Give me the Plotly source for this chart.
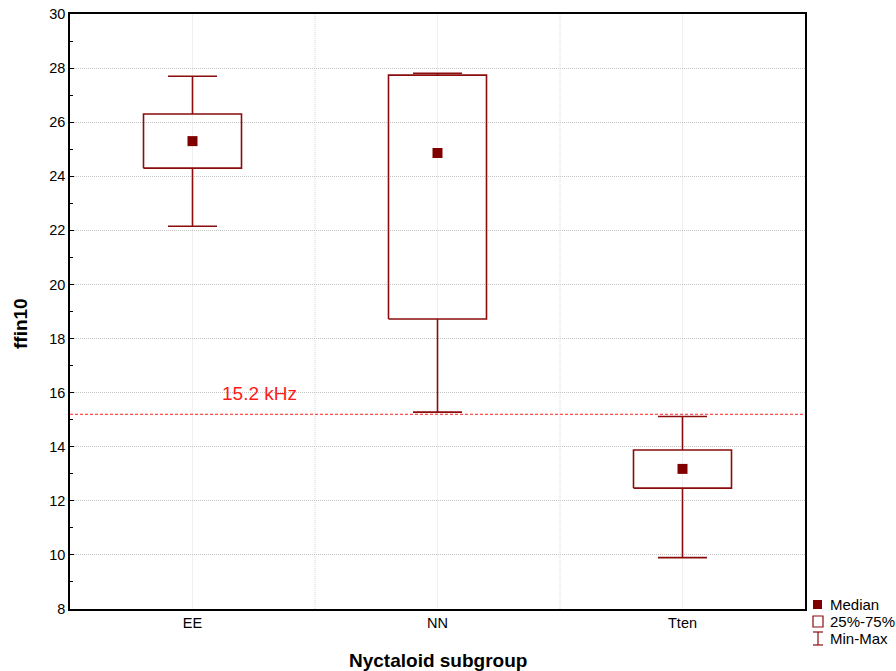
import plotly.graph_objects as go

categories = ["EE", "NN", "Tten"]
mins = [22.15, 15.28, 9.90]
q1s = [24.30, 18.72, 12.47]
medians = [25.30, 24.86, 13.18]
q3s = [26.30, 27.74, 13.88]
maxs = [27.70, 27.81, 15.12]
ref_value = 15.2
ref_label = "15.2 kHz"

COL = "#8a0c0c"
FONT = "Liberation Sans, Arial, sans-serif"
BOX_HW = 0.2
CAP_HW = 0.1

fig = go.Figure()

for i, cat in enumerate(categories):
    fig.add_trace(go.Scatter(
        x=[i - BOX_HW, i + BOX_HW, i + BOX_HW, i - BOX_HW, i - BOX_HW],
        y=[q1s[i], q1s[i], q3s[i], q3s[i], q1s[i]],
        mode="lines", line=dict(color=COL, width=1.6),
        showlegend=False, hoverinfo="skip"))
    fig.add_trace(go.Scatter(
        x=[i, i, None, i, i, None, i - CAP_HW, i + CAP_HW, None, i - CAP_HW, i + CAP_HW],
        y=[q3s[i], maxs[i], None, q1s[i], mins[i], None, maxs[i], maxs[i], None, mins[i], mins[i]],
        mode="lines", line=dict(color=COL, width=1.6),
        showlegend=False, hoverinfo="skip"))
    fig.add_trace(go.Scatter(
        x=[i], y=[medians[i]], mode="markers",
        marker=dict(symbol="square", size=10, color="#800000"),
        showlegend=False))

shapes = []
for b in [0.5, 1.5]:
    shapes.append(dict(type="line", xref="x", yref="paper", x0=b, x1=b, y0=0, y1=1,
                       line=dict(color="#d4d4d4", width=1, dash="1px,1px"), layer="below"))
shapes.append(dict(type="line", xref="paper", yref="y", x0=0, x1=1, y0=ref_value, y1=ref_value,
                   line=dict(color="#ff2020", width=1, dash="3px,2px")))

L, T, W, H = 70, 14, 735, 595
def px(xp):
    return (xp - L) / W
def py(yp):
    return (T + H - yp) / H

shapes.append(dict(type="rect", xref="paper", yref="paper",
                   x0=px(813), x1=px(822), y0=py(609), y1=py(600),
                   fillcolor="#800000", line=dict(width=0)))
shapes.append(dict(type="rect", xref="paper", yref="paper",
                   x0=px(813), x1=px(823), y0=py(627), y1=py(616),
                   fillcolor="white", line=dict(color=COL, width=1.2)))
shapes.append(dict(type="line", xref="paper", yref="paper",
                   x0=px(818), x1=px(818), y0=py(645), y1=py(632), line=dict(color=COL, width=1.2)))
shapes.append(dict(type="line", xref="paper", yref="paper",
                   x0=px(813), x1=px(823), y0=py(632), y1=py(632), line=dict(color=COL, width=1.2)))
shapes.append(dict(type="line", xref="paper", yref="paper",
                   x0=px(813), x1=px(823), y0=py(645), y1=py(645), line=dict(color=COL, width=1.2)))

annotations = [
    dict(text=ref_label, x=px(259), y=py(393), xref="paper", yref="paper", showarrow=False,
         font=dict(color="#ff1a1a", size=19, family=FONT), xanchor="center", yanchor="middle"),
    dict(text="<b>ffin10</b>", x=px(21), y=py(324), xref="paper", yref="paper", showarrow=False,
         textangle=-90, font=dict(size=19, color="black", family=FONT), xanchor="center", yanchor="middle"),
    dict(text="<b>Nyctaloid subgroup</b>", x=px(438), y=py(660), xref="paper", yref="paper", showarrow=False,
         font=dict(size=19, color="black", family=FONT), xanchor="center", yanchor="middle"),
]
for lab, yp in [("Median", 604.5), ("25%-75%", 621.5), ("Min-Max", 638.5)]:
    annotations.append(dict(text=lab, x=px(828), y=py(yp), xref="paper", yref="paper",
                            showarrow=False, xanchor="left", yanchor="middle",
                            font=dict(size=15, color="black", family=FONT)))

fig.update_layout(
    width=896, height=671,
    margin=dict(l=70, r=91, t=14, b=62),
    paper_bgcolor="white", plot_bgcolor="white",
    font=dict(family=FONT, size=14.5, color="black"),
    shapes=shapes, annotations=annotations,
    showlegend=False,
    xaxis=dict(range=[-0.5, 2.5], tickvals=list(range(len(categories))), ticktext=categories,
               showgrid=True, gridcolor="#f0f0f0", gridwidth=1, zeroline=False, automargin=False,
               showline=True, linecolor="black", linewidth=1.5, mirror=True, ticks="",
               tickfont=dict(size=14.5)),
    yaxis=dict(range=[8, 30], tickvals=list(range(8, 31, 2)), showgrid=True, gridcolor="#c4c4c4",
               griddash="1px,1px", gridwidth=1, zeroline=False, automargin=False,
               showline=True, linecolor="black", linewidth=1.5, mirror=True,
               ticks="inside", ticklen=4, tickcolor="black",
               minor=dict(tickvals=list(range(9, 30, 2)), ticks="inside", ticklen=3, tickcolor="black", showgrid=False),
               tickfont=dict(size=14.5)),
)

fig.write_html("out.html")
